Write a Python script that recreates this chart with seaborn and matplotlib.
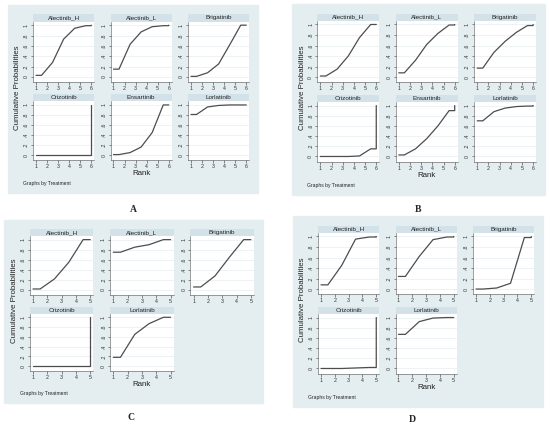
import numpy as np
import matplotlib
matplotlib.use("Agg")
import matplotlib.pyplot as plt
from matplotlib.patches import Rectangle
import seaborn as sns

# treatments shown in each network
treat_ab = ["Alectinib_H", "Alectinib_L", "Brigatinib", "Crizotinib", "Ensartinib", "Lorlatinib"]
treat_cd = ["Alectinib_H", "Alectinib_L", "Brigatinib", "Crizotinib", "Lorlatinib"]

# cumulative ranking probabilities, rank 1..n
cum_a = [
    [0.03, 0.28, 0.73, 0.94, 0.99, 1.0],
    [0.15, 0.63, 0.87, 0.97, 0.99, 1.0],
    [0.01, 0.08, 0.25, 0.62, 1.0, 1.0],
    [0.01, 0.01, 0.01, 0.01, 0.01, 1.0],
    [0.01, 0.05, 0.16, 0.45, 1.0, 1.0],
    [0.81, 0.96, 0.99, 1.0, 1.0, 1.0],
]
cum_b = [
    [0.02, 0.15, 0.40, 0.75, 1.0, 1.0],
    [0.08, 0.32, 0.62, 0.83, 0.99, 1.0],
    [0.17, 0.47, 0.68, 0.85, 0.98, 1.0],
    [0.0, 0.0, 0.0, 0.01, 0.15, 1.0],
    [0.03, 0.15, 0.35, 0.60, 0.90, 1.0],
    [0.70, 0.88, 0.95, 0.98, 0.99, 1.0],
]
cum_c = [
    [0.02, 0.22, 0.55, 1.0, 1.0],
    [0.75, 0.85, 0.90, 1.0, 1.0],
    [0.06, 0.28, 0.65, 1.0, 1.0],
    [0.01, 0.01, 0.01, 0.01, 1.0],
    [0.18, 0.65, 0.87, 1.0, 1.0],
]
cum_d = [
    [0.08, 0.45, 0.95, 0.99, 1.0],
    [0.24, 0.62, 0.94, 0.99, 1.0],
    [0.0, 0.02, 0.11, 0.98, 1.0],
    [0.0, 0.0, 0.01, 0.02, 1.0],
    [0.67, 0.92, 0.99, 1.0, 1.0],
]

W_PX, H_PX = 550, 424
BG = "#e4eef1"
STRIP = "#d3e2e9"
LINE = "#4d4d4d"

sns.set_theme(style="white")
plt.rcParams["font.family"] = ["Liberation Sans", "DejaVu Sans"]

fig = plt.figure(figsize=(W_PX / 100, H_PX / 100), dpi=100)
fig.patch.set_facecolor("white")


def fig_rect(x0, y0, w, h):
    # pixel box (top-left origin) -> figure fraction
    return [x0 / W_PX, 1 - (y0 + h) / H_PX, w / W_PX, h / H_PX]


def draw_panel(letter, names, cums, box, letter_xy):
    x0, y0, x1, y1 = box
    W, H = x1 - x0, y1 - y0
    fig.patches.append(Rectangle((x0 / W_PX, 1 - y1 / H_PX), W / W_PX, H / H_PX,
                                 transform=fig.transFigure, color=BG, zorder=-10))
    n = len(cums[0])
    col_l, col_r, gap = 0.10, 0.965, 0.065
    cw = (col_r - col_l - 2 * gap) / 3
    rows = [(0.05, 0.41), (0.475, 0.825)]
    strip_h = 0.038
    pad = 0.054 * (n - 1)

    for i, (name, c) in enumerate(zip(names, cums)):
        r, col = divmod(i, 3)
        top, bot = rows[r]
        left = x0 + W * (col_l + col * (cw + gap))
        sax = fig.add_axes(fig_rect(left, y0 + H * top, W * cw, H * strip_h))
        sax.set_facecolor(STRIP)
        sax.set_xticks([])
        sax.set_yticks([])
        for s in sax.spines.values():
            s.set_visible(False)
        sax.text(0.5, 0.5, name, ha="center", va="center", fontsize=4.6,
                 color="#222222", transform=sax.transAxes)

        ax = fig.add_axes(fig_rect(left, y0 + H * (top + strip_h), W * cw,
                                   H * (bot - top - strip_h)))
        ranks = np.arange(1, n + 1)
        xs = np.concatenate([[1], ranks[:-1] + 0.5, [n, n]])
        ys = np.array([c[0]] + c[:-1] + [c[-2], c[-1]])
        sns.lineplot(x=xs, y=ys, ax=ax, color=LINE, lw=0.9, sort=False,
                     estimator=None)
        ax.set_facecolor("white")
        ax.set_xlim(1 - pad, n + pad)
        ax.set_ylim(-0.1, 1.07)
        ax.set_xticks(ranks)
        ax.set_xticklabels([str(k) for k in ranks])
        ax.set_yticks([0, 0.2, 0.4, 0.6, 0.8, 1])
        ax.set_yticklabels(["0", ".2", ".4", ".6", ".8", "1"], rotation=90,
                           va="center")
        ax.yaxis.grid(True, color="#e6eef1", lw=0.5)
        ax.tick_params(axis="both", labelsize=3.8, length=1.8, width=0.4,
                       pad=1.2, colors="#333333", direction="out",
                       bottom=True, left=True)
        for side in ["top", "right"]:
            ax.spines[side].set_visible(False)
        for side in ["left", "bottom"]:
            ax.spines[side].set_color("#555555")
            ax.spines[side].set_linewidth(0.4)

    fig.text((x0 + W * 0.04) / W_PX, 1 - (y0 + H * 0.44) / H_PX,
             "Cumulative Probabilities", rotation=90, ha="center", va="center",
             fontsize=5.7, color="#222222")
    fig.text((x0 + W * (col_l + col_r) / 2) / W_PX, 1 - (y0 + H * 0.898) / H_PX,
             "Rank", ha="center", va="center", fontsize=5.7, color="#222222")
    fig.text((x0 + W * 0.06) / W_PX, 1 - (y0 + H * 0.948) / H_PX,
             "Graphs by Treatment", ha="left", va="center", fontsize=3.6,
             color="#222222")
    fig.text(letter_xy[0] / W_PX, 1 - letter_xy[1] / H_PX, letter,
             ha="center", va="center", fontsize=7, fontweight="bold",
             family="Liberation Serif")


draw_panel("A", treat_ab, cum_a, (8, 5, 258, 193), (133, 209))
draw_panel("B", treat_ab, cum_b, (292, 4, 545, 195), (418, 209))
draw_panel("C", treat_cd, cum_c, (4, 220, 263, 403), (131, 418))
draw_panel("D", treat_cd, cum_d, (293, 216, 543, 407), (412, 420))

fig.savefig("out.png", dpi=100, facecolor="white")
